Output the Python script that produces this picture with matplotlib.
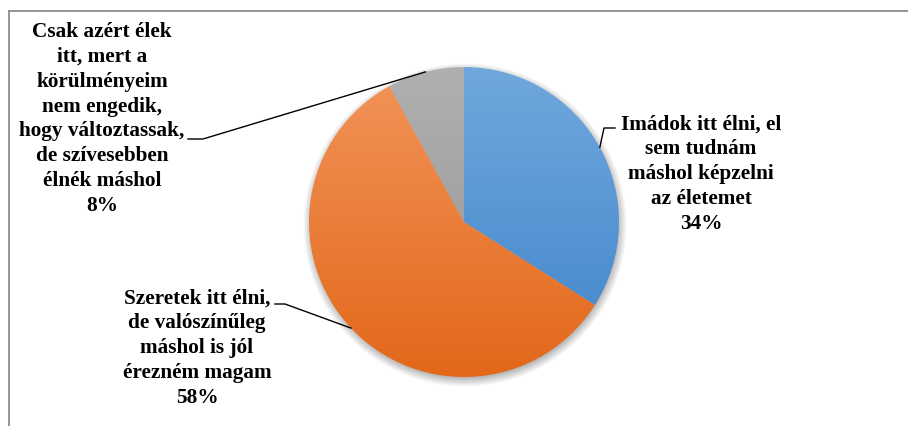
import numpy as np
import matplotlib.pyplot as plt
from matplotlib.colors import LinearSegmentedColormap

labels = [
    "Imádok itt élni, el\nsem tudnám\nmáshol képzelni\naz életemet",
    "Szeretek itt élni,\nde valószínűleg\nmáshol is jól\nérezném magam",
    "Csak azért élek\nitt, mert a\nkörülményeim\nnem engedik,\nhogy változtassak,\nde szívesebben\nélnék máshol",
]
shares = [34, 58, 8]
# top / bottom colours of the vertical gradient on each slice
grad_top = ["#70a8dd", "#f3945a", "#b0b0b0"]
grad_bot = ["#3f84ca", "#e2681a", "#939393"]

W, H = 908, 427
fig = plt.figure(figsize=(W / 100, H / 100), dpi=100)
ax = fig.add_axes([0, 0, 1, 1])
ax.set_xlim(0, W)
ax.set_ylim(0, H)
ax.axis("off")

cx, cy, R = 464, 427 - 223, 155

# soft shadow under the pie
yy, xx = np.mgrid[0:H, 0:W]
d = np.hypot(xx + 0.5 - (cx + 1), (H - yy - 0.5) - (cy - 3))
sh = np.clip((R + 7 - d) / 10, 0, 1) * 0.3
rgba = np.zeros((H, W, 4))
rgba[..., 3] = sh
ax.imshow(rgba, extent=(0, W, 0, H), zorder=1, interpolation="bilinear")

wedges, _ = ax.pie(shares, startangle=90, counterclock=False,
                   center=(cx, cy), radius=R, frame=True,
                   wedgeprops=dict(linewidth=0))
ax.set_xlim(0, W)
ax.set_ylim(0, H)
ax.set_aspect("equal")

grad = np.linspace(0, 1, 256).reshape(-1, 1)
for w, c0, c1 in zip(wedges, grad_top, grad_bot):
    w.set_facecolor("none")
    w.set_zorder(3)
    cmap = LinearSegmentedColormap.from_list("g", [c0, c1])
    im = ax.imshow(grad, cmap=cmap, aspect="auto",
                   extent=(cx - R, cx + R, cy - R, cy + R), zorder=2)
    im.set_clip_path(w)

font = dict(family="Liberation Serif", fontweight="bold", fontsize=15.3,
            ha="center", va="center", linespacing=1.33, color="black")

# label text centres and elbow of each leader line (pixels, y up)
label_xy = [(701, 427 - 174), (197, 427 - 348), (102, 427 - 119)]
elbow = [[(615, 427 - 129), (604, 427 - 129)],
         [(275, 427 - 305), (285, 427 - 305)],
         [(188, 427 - 140), (203, 427 - 140)]]

for w, lab, val, (tx, ty), el in zip(wedges, labels, shares, label_xy, elbow):
    ang = np.deg2rad((w.theta1 + w.theta2) / 2)
    px, py = cx + R * np.cos(ang), cy + R * np.sin(ang)
    xs = [el[0][0], el[1][0], px]
    ys = [el[0][1], el[1][1], py]
    ax.plot(xs, ys, color="black", lw=1.0, zorder=4)
    ax.text(tx, ty, f"{lab}\n{val}%", zorder=5, **font)

# chart area border (top and left edges)
ax.plot([9, W], [H - 12, H - 12], color="#8c8c8c", lw=1.3, zorder=6)
ax.plot([9, 9], [0, H - 12], color="#8c8c8c", lw=1.3, zorder=6)

fig.savefig("out.png", dpi=100)
